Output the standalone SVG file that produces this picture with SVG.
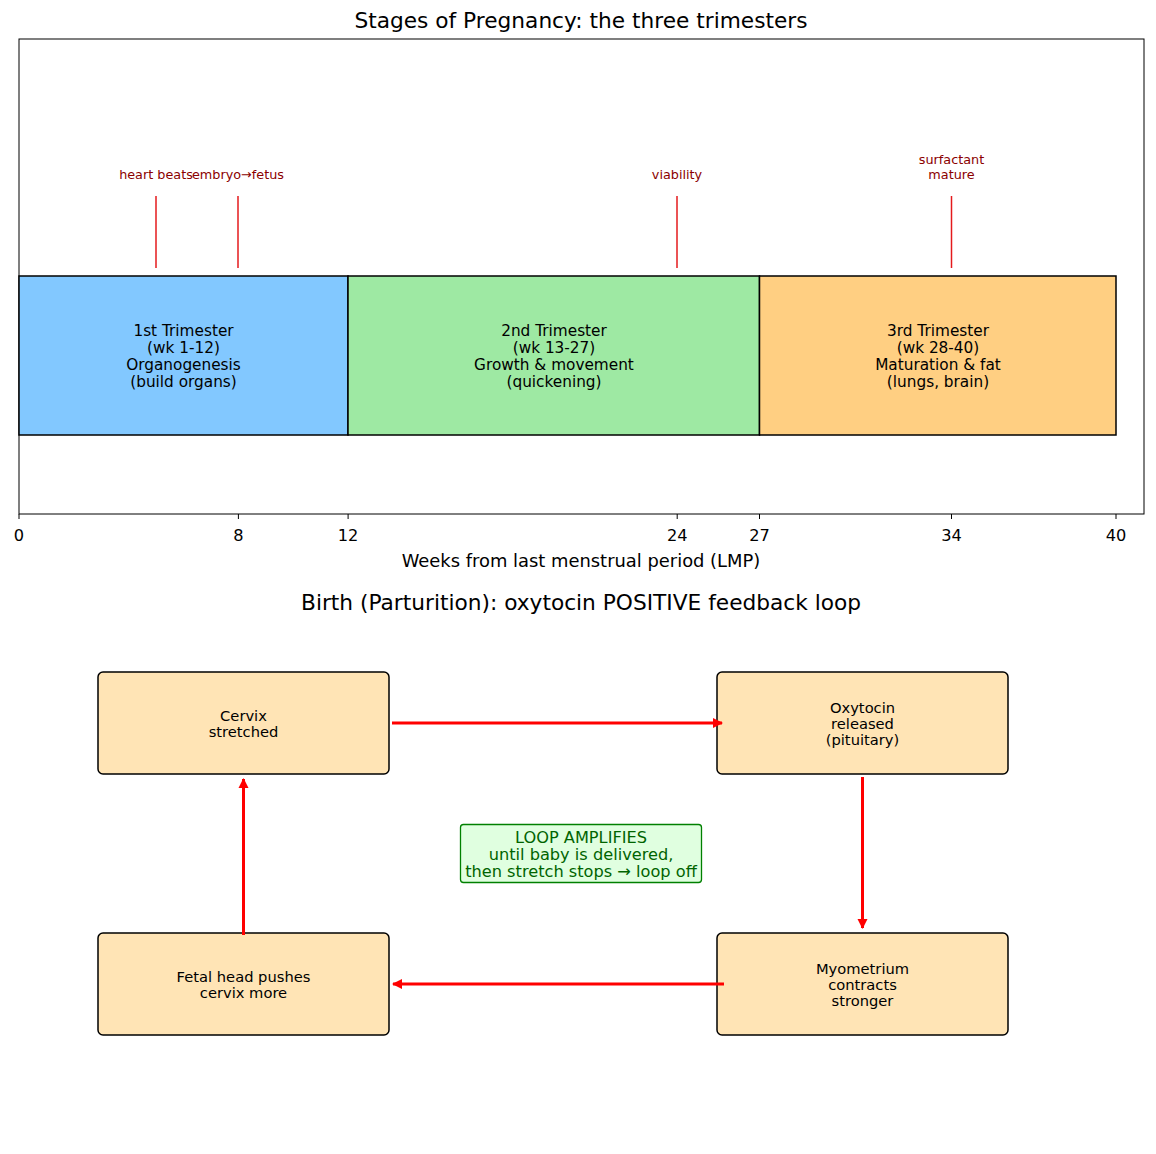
<svg xmlns="http://www.w3.org/2000/svg" width="1156" height="1154" viewBox="0 0 1156 1154">
<defs>
<style>
text{font-family:"DejaVu Sans","Liberation Sans",sans-serif;fill:#000}
.title{font-size:21.7px;text-anchor:middle}
.bar{stroke:#000;stroke-width:1.5}
.bt{font-size:15.3px;text-anchor:middle}
.tick{font-size:16.2px;text-anchor:middle}
.xl{font-size:17.9px;text-anchor:middle}
.ann{font-size:12.8px;fill:#8B0000;text-anchor:middle}
.mk{stroke:#e41a1c;stroke-width:1.5}
.node rect{fill:#FFE4B5;stroke:#000;stroke-width:1.5}
.node text{font-size:14.7px;text-anchor:middle}
.conn line{stroke:#ff0000;stroke-width:3}
.loop rect{fill:#E0FFE0;stroke:#008000;stroke-width:1.3}
.loop text{font-size:16.2px;fill:#006400;text-anchor:middle}
</style>
<marker id="ah" viewBox="0 0 10 10" refX="9" refY="5" markerWidth="3.4" markerHeight="3.4" orient="auto" markerUnits="strokeWidth">
<path d="M0,0 L10,5 L0,10 Z" fill="#ff0000"/>
</marker>
</defs>
<rect width="1156" height="1154" fill="#fff"/>

<text class="title" x="581" y="28">Stages of Pregnancy: the three trimesters</text>
<rect x="19" y="39" width="1125" height="475" fill="none" stroke="#000" stroke-width="1"/>

<g id="trimester1">
<rect class="bar" x="19" y="276" width="329" height="159" fill="#82C8FF"/>
<text class="bt" x="183.5" y="335.5">1st Trimester</text>
<text class="bt" x="183.5" y="352.5">(wk 1-12)</text>
<text class="bt" x="183.5" y="369.5">Organogenesis</text>
<text class="bt" x="183.5" y="386.5">(build organs)</text>
</g>
<g id="trimester2">
<rect class="bar" x="348" y="276" width="411.5" height="159" fill="#9EE9A3"/>
<text class="bt" x="554" y="335.5">2nd Trimester</text>
<text class="bt" x="554" y="352.5">(wk 13-27)</text>
<text class="bt" x="554" y="369.5">Growth &amp; movement</text>
<text class="bt" x="554" y="386.5">(quickening)</text>
</g>
<g id="trimester3">
<rect class="bar" x="759.5" y="276" width="356.5" height="159" fill="#FFCF82"/>
<text class="bt" x="938" y="335.5">3rd Trimester</text>
<text class="bt" x="938" y="352.5">(wk 28-40)</text>
<text class="bt" x="938" y="369.5">Maturation &amp; fat</text>
<text class="bt" x="938" y="386.5">(lungs, brain)</text>
</g>

<g id="milestones">
<line class="mk" x1="156" y1="196" x2="156" y2="268"/>
<line class="mk" x1="238" y1="196" x2="238" y2="268"/>
<line class="mk" x1="677" y1="196" x2="677" y2="268"/>
<line class="mk" x1="951.5" y1="196" x2="951.5" y2="268"/>
<text class="ann" x="156" y="179">heart beats</text>
<text class="ann" x="238" y="179">embryo→fetus</text>
<text class="ann" x="677" y="179">viability</text>
<text class="ann" x="951.5" y="164">surfactant</text>
<text class="ann" x="951.5" y="179">mature</text>
</g>

<g id="xaxis" stroke="#000" stroke-width="1">
<line x1="19" y1="514" x2="19" y2="519"/>
<line x1="238.4" y1="514" x2="238.4" y2="519"/>
<line x1="348.1" y1="514" x2="348.1" y2="519"/>
<line x1="677.2" y1="514" x2="677.2" y2="519"/>
<line x1="759.5" y1="514" x2="759.5" y2="519"/>
<line x1="951.5" y1="514" x2="951.5" y2="519"/>
<line x1="1116" y1="514" x2="1116" y2="519"/>
</g>
<g id="xlabels">
<text class="tick" x="19" y="541">0</text>
<text class="tick" x="238.4" y="541">8</text>
<text class="tick" x="348.1" y="541">12</text>
<text class="tick" x="677.2" y="541">24</text>
<text class="tick" x="759.5" y="541">27</text>
<text class="tick" x="951.5" y="541">34</text>
<text class="tick" x="1116" y="541">40</text>
<text class="xl" x="581" y="567">Weeks from last menstrual period (LMP)</text>
</g>

<text class="title" x="581" y="609.5">Birth (Parturition): oxytocin POSITIVE feedback loop</text>

<g id="cervix" class="node">
<rect x="98" y="672" width="291" height="102" rx="5"/>
<text x="243.5" y="720.5">Cervix</text>
<text x="243.5" y="736.5">stretched</text>
</g>
<g id="oxytocin" class="node">
<rect x="717" y="672" width="291" height="102" rx="5"/>
<text x="862.5" y="712.5">Oxytocin</text>
<text x="862.5" y="728.5">released</text>
<text x="862.5" y="744.5">(pituitary)</text>
</g>
<g id="myometrium" class="node">
<rect x="717" y="933" width="291" height="102" rx="5"/>
<text x="862.5" y="973.5">Myometrium</text>
<text x="862.5" y="989.5">contracts</text>
<text x="862.5" y="1005.5">stronger</text>
</g>
<g id="fetal" class="node">
<rect x="98" y="933" width="291" height="102" rx="5"/>
<text x="243.5" y="981.5">Fetal head pushes</text>
<text x="243.5" y="997.5">cervix more</text>
</g>

<g id="connectors" class="conn">
<line x1="392" y1="723" x2="722" y2="723" marker-end="url(#ah)"/>
<line x1="862.5" y1="777" x2="862.5" y2="928" marker-end="url(#ah)"/>
<line x1="724" y1="984" x2="393" y2="984" marker-end="url(#ah)"/>
<line x1="243.5" y1="935" x2="243.5" y2="779" marker-end="url(#ah)"/>
</g>

<g id="loopnote" class="loop">
<rect x="460.5" y="824.5" width="241" height="58" rx="3"/>
<text x="581" y="842.5">LOOP AMPLIFIES</text>
<text x="581" y="859.5">until baby is delivered,</text>
<text x="581" y="876.5">then stretch stops → loop off</text>
</g>
</svg>
